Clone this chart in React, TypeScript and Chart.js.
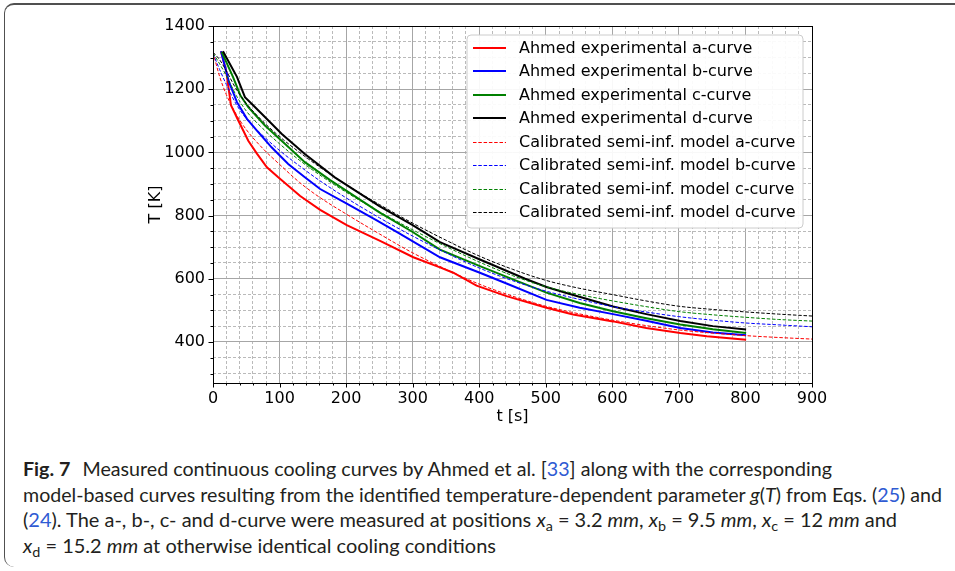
import React, { useEffect, useLayoutEffect, useRef } from "react";
import { Chart, registerables } from "chart.js";

Chart.register(...registerables);

// ---------- data ----------
const expATime = [12, 20, 27, 38, 53, 66, 81, 98, 131, 161, 201, 251, 301, 341, 361, 396, 441, 501, 541, 601, 651, 702, 742, 801];
const expATemp = [1320, 1255, 1149, 1101, 1037, 996, 953, 921, 862, 818, 770, 720, 668, 636, 619, 578, 545, 508, 487, 465, 444, 428, 418, 407];

const expBTime = [12, 24, 36, 51, 66, 88, 113, 138, 161, 201, 246, 276, 341, 401, 441, 501, 551, 601, 651, 702, 751, 801];
const expBTemp = [1320, 1223, 1159, 1106, 1069, 1016, 963, 921, 884, 838, 785, 748, 668, 619, 585, 533, 508, 488, 467, 444, 430, 421];

const expCTime = [13, 30, 41, 53, 78, 108, 138, 176, 250, 300, 341, 401, 446, 501, 551, 601, 651, 702, 751, 801];
const expCTemp = [1318, 1239, 1181, 1143, 1085, 1027, 969, 912, 810, 748, 692, 640, 602, 556, 523, 497, 475, 455, 440, 428];

const expDTime = [15, 25, 36, 48, 58, 78, 103, 138, 183, 250, 300, 341, 401, 469, 501, 531, 601, 651, 702, 751, 801];
const expDTemp = [1320, 1281, 1239, 1175, 1154, 1112, 1059, 995, 921, 830, 770, 716, 661, 600, 574, 555, 512, 488, 466, 450, 439];

const modelTime = [0, 10, 20, 35, 50, 75, 100, 130, 160, 200, 250, 300, 350, 400, 450, 500, 550, 600, 650, 700, 750, 800, 850, 900];
const modelATemp = [1317, 1240, 1183, 1120, 1072, 1012, 962, 905, 858, 805, 742, 682, 630, 583, 545, 513, 489, 469, 452, 438, 428, 420, 414, 409];
const modelBTemp = [1313, 1262, 1215, 1152, 1107, 1053, 1006, 957, 911, 856, 793, 735, 682, 634, 594, 561, 535, 512, 495, 480, 469, 460, 454, 448];
const modelCTemp = [1315, 1280, 1243, 1180, 1131, 1075, 1027, 975, 929, 874, 812, 755, 702, 653, 610, 575, 550, 530, 512, 496, 486, 478, 471, 466];
const modelDTemp = [1317, 1293, 1258, 1200, 1155, 1098, 1050, 1000, 954, 898, 835, 776, 722, 672, 630, 595, 570, 550, 530, 513, 503, 495, 488, 482];

const xTickValues = [0, 100, 200, 300, 400, 500, 600, 700, 800, 900];
const yTickValues = [400, 600, 800, 1000, 1200, 1400];

const seriesLabels = [
  "Ahmed experimental a-curve",
  "Ahmed experimental b-curve",
  "Ahmed experimental c-curve",
  "Ahmed experimental d-curve",
  "Calibrated semi-inf. model a-curve",
  "Calibrated semi-inf. model b-curve",
  "Calibrated semi-inf. model c-curve",
  "Calibrated semi-inf. model d-curve",
];
const seriesColors = ["#ff0000", "#0000ff", "#008000", "#000000", "#ff0000", "#0000ff", "#008000", "#000000"];

const xAxisTitle = "t [s]";
const yAxisTitle = "T [K]";

// ---------- styling ----------
const FONT = "'DejaVu Sans', sans-serif";
const MODEL_DASH = [3.5, 1.8];
const MAJOR_GRID = "#a6a6a6";
const MINOR_GRID = "#bababa";

const zip = (xs: number[], ys: number[]) => xs.map((x, i) => ({ x, y: ys[i] }));

const overlayPlugin = {
  id: "overlay",
  afterDraw(chart: any) {
    const { ctx, chartArea: a, scales } = chart;
    const xs = scales.x;
    const ys = scales.y;
    ctx.save();
    // spines
    ctx.strokeStyle = "#000";
    ctx.lineWidth = 1;
    ctx.setLineDash([]);
    ctx.strokeRect(Math.round(a.left) + 0.5, Math.round(a.top) + 0.5, Math.round(a.right - a.left), Math.round(a.bottom - a.top));
    // tick marks
    ctx.beginPath();
    xs.ticks.forEach((t: any) => {
      const px = Math.round(xs.getPixelForValue(t.value)) + 0.5;
      const len = t.value % 100 === 0 ? 4.5 : 2.5;
      ctx.moveTo(px, Math.round(a.bottom));
      ctx.lineTo(px, Math.round(a.bottom) + len);
    });
    ys.ticks.forEach((t: any) => {
      const py = Math.round(ys.getPixelForValue(t.value)) + 0.5;
      const len = t.value % 200 === 0 ? 4.5 : 2.5;
      ctx.moveTo(Math.round(a.left), py);
      ctx.lineTo(Math.round(a.left) - len, py);
    });
    ctx.stroke();

    // axis titles
    ctx.fillStyle = "#000";
    ctx.font = `16px ${FONT}`;
    ctx.textAlign = "center";
    ctx.textBaseline = "middle";
    ctx.fillText(xAxisTitle, (a.left + a.right) / 2, 417);
    ctx.save();
    ctx.translate(156, (a.top + a.bottom) / 2);
    ctx.rotate(-Math.PI / 2);
    ctx.fillText(yAxisTitle, 0, 0);
    ctx.restore();

    // legend
    const lx = 467, ly = 35, lw = 336, lh = 193, r = 4;
    ctx.beginPath();
    ctx.moveTo(lx + r, ly);
    ctx.arcTo(lx + lw, ly, lx + lw, ly + lh, r);
    ctx.arcTo(lx + lw, ly + lh, lx, ly + lh, r);
    ctx.arcTo(lx, ly + lh, lx, ly, r);
    ctx.arcTo(lx, ly, lx + lw, ly, r);
    ctx.closePath();
    ctx.fillStyle = "rgba(255,255,255,0.92)";
    ctx.fill();
    ctx.strokeStyle = "#cccccc";
    ctx.lineWidth = 1;
    ctx.stroke();
    ctx.textAlign = "left";
    ctx.textBaseline = "middle";
    seriesLabels.forEach((label, i) => {
      const cy = 47.7 + i * 23.5;
      const model = i >= 4;
      ctx.beginPath();
      ctx.strokeStyle = seriesColors[i];
      ctx.lineWidth = model ? 1 : 2;
      ctx.setLineDash(model ? MODEL_DASH : []);
      ctx.moveTo(473, Math.round(cy) + (model ? 0.5 : 0));
      ctx.lineTo(506, Math.round(cy) + (model ? 0.5 : 0));
      ctx.stroke();
      ctx.setLineDash([]);
      ctx.fillStyle = "#000";
      ctx.fillText(label, 519, cy + 1);
    });
    ctx.restore();
  },
};

function ChartView() {
  const ref = useRef<HTMLCanvasElement | null>(null);
  useEffect(() => {
    if (!ref.current) return;
    const exp = [
      zip(expATime, expATemp),
      zip(expBTime, expBTemp),
      zip(expCTime, expCTemp),
      zip(expDTime, expDTemp),
    ];
    const models = [modelATemp, modelBTemp, modelCTemp, modelDTemp].map((m) => zip(modelTime, m));
    const datasets: any[] = [];
    exp.forEach((d, i) =>
      datasets.push({
        label: seriesLabels[i],
        data: d,
        borderColor: seriesColors[i],
        borderWidth: 2,
        pointRadius: 0,
        tension: 0,
        order: 8 - i,
      })
    );
    models.forEach((d, i) =>
      datasets.push({
        label: seriesLabels[i + 4],
        data: d,
        borderColor: seriesColors[i + 4],
        borderWidth: 1,
        borderDash: MODEL_DASH,
        pointRadius: 0,
        cubicInterpolationMode: "monotone",
        order: 4 - i,
      })
    );
    const isMajorX = (v: number) => xTickValues.includes(v);
    const isMajorY = (v: number) => yTickValues.includes(v);
    const chart = new Chart(ref.current, {
      type: "line",
      data: { datasets },
      plugins: [overlayPlugin],
      options: {
        animation: false,
        responsive: false,
        devicePixelRatio: 1,
        events: [],
        layout: { padding: { top: 26, right: 143, bottom: 17, left: 0 } },
        plugins: { legend: { display: false }, tooltip: { enabled: false }, title: { display: false } },
        scales: {
          x: {
            type: "linear",
            min: 0,
            max: 900,
            afterBuildTicks: (s: any) => {
              const t = [];
              for (let v = 0; v <= 900; v += 20) t.push({ value: v });
              s.ticks = t;
            },
            afterFit: (s: any) => {
              s.height = 40;
            },
            ticks: {
              autoSkip: false,
              maxRotation: 0,
              padding: 6,
              color: "#000",
              font: { family: FONT, size: 16 },
              callback: (v: any) => (isMajorX(Number(v)) ? String(v) : ""),
            },
            grid: {
              drawTicks: false,
              color: (c: any) => (c.tick && isMajorX(c.tick.value) ? MAJOR_GRID : MINOR_GRID),
              lineWidth: 1,
            },
            border: {
              display: false,
              dash: (c: any) => (c.tick && isMajorX(c.tick.value) ? [] : [3, 2]),
            },
          },
          y: {
            type: "linear",
            min: 270,
            max: 1400,
            afterBuildTicks: (s: any) => {
              const t = [];
              for (let v = 300; v <= 1400; v += 50) t.push({ value: v });
              s.ticks = t;
            },
            afterFit: (s: any) => {
              s.width = 213;
            },
            ticks: {
              autoSkip: false,
              padding: 8,
              color: "#000",
              font: { family: FONT, size: 16 },
              callback: (v: any) => (isMajorY(Number(v)) ? String(v) : ""),
            },
            grid: {
              drawTicks: false,
              color: (c: any) => (c.tick && isMajorY(c.tick.value) ? MAJOR_GRID : MINOR_GRID),
              lineWidth: 1,
            },
            border: {
              display: false,
              dash: (c: any) => (c.tick && isMajorY(c.tick.value) ? [] : [3, 2]),
            },
          },
        },
      } as any,
    });
    return () => chart.destroy();
  }, []);
  return (
    <canvas
      ref={ref}
      width={955}
      height={440}
      style={{ position: "absolute", left: 0, top: 0, width: 955, height: 440 }}
    />
  );
}

const LINK = "#2f5bd3";
const captionRight = [832, 942, 897, 496];

function Sub({ c }: { c: string }) {
  return <sub style={{ fontSize: "0.72em", verticalAlign: "-0.28em", lineHeight: 0 }}>{c}</sub>;
}

function Caption() {
  const refs = useRef<(HTMLSpanElement | null)[]>([]);
  useLayoutEffect(() => {
    refs.current.forEach((el, i) => {
      if (!el) return;
      el.style.transform = "none";
      const w = el.getBoundingClientRect().width;
      const k = (captionRight[i] - 23) / w;
      el.style.transform = `scaleX(${k})`;
    });
  }, []);
  const lines = [
    <>
      <b style={{ marginRight: 12 }}>Fig. 7</b>Measured continuous cooling curves by Ahmed et al. [<span style={{ color: LINK }}>33</span>] along with the corresponding
    </>,
    <>
      model-based curves resulting from the identified temperature-dependent parameter <i>g</i>(<i>T</i>) from Eqs. (
      <span style={{ color: LINK }}>25</span>) and
    </>,
    <>
      (<span style={{ color: LINK }}>24</span>). The a-, b-, c- and d-curve were measured at positions <i>x</i>
      <Sub c="a" /> = 3.2 <i>mm</i>, <i>x</i>
      <Sub c="b" /> = 9.5 <i>mm</i>, <i>x</i>
      <Sub c="c" /> = 12 <i>mm</i> and
    </>,
    <>
      <i>x</i>
      <Sub c="d" /> = 15.2 <i>mm</i> at otherwise identical cooling conditions
    </>,
  ];
  return (
    <>
      {lines.map((ln, i) => (
        <div
          key={i}
          style={{
            position: "absolute",
            left: 23,
            top: 456 + i * 25.7,
            height: 26,
            lineHeight: "26px",
            whiteSpace: "nowrap",
            fontFamily: "Lato, 'Noto Sans', sans-serif",
            fontSize: 19.5,
            color: "#231f20",
          }}
        >
          <span
            ref={(el) => {
              refs.current[i] = el;
            }}
            style={{ display: "inline-block", transformOrigin: "left center" }}
          >
            {ln}
          </span>
        </div>
      ))}
    </>
  );
}

export default function App() {
  return (
    <div style={{ position: "absolute", left: 0, top: 0, width: 955, height: 571, overflow: "hidden", background: "#fff" }}>
      <div
        style={{
          position: "absolute",
          left: 4,
          top: 3,
          width: 1000,
          height: 564,
          borderTop: "2px solid #505050",
          borderLeft: "1.5px solid #505050",
          borderRadius: "10px 0 0 10px",
          boxSizing: "border-box",
        }}
      />
      <ChartView />
      <Caption />
    </div>
  );
}
